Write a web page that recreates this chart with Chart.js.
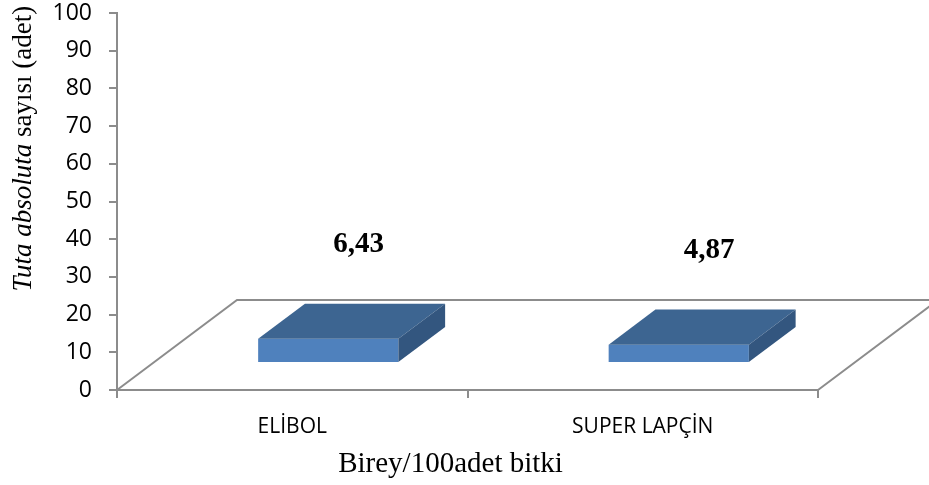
<!DOCTYPE html>
<html>
<head>
<meta charset="utf-8">
<script src="https://cdn.jsdelivr.net/npm/chart.js@4/dist/chart.umd.min.js"></script>
<style>
  html, body { margin: 0; padding: 0; background: #fff; }
  #wrap { width: 929px; height: 485px; }
</style>
</head>
<body>
<div id="wrap"><canvas id="c" width="929" height="485"></canvas></div>
<script>
// Chart data
const categories = ['ELİBOL', 'SUPER LAPÇİN'];
const values = [6.43, 4.87];
const valueLabels = ['6,43', '4,87'];
const yMin = 0;
const yMax = 100;
const yStep = 10;
const xTitle = 'Birey/100adet bitki';
const yTitleItalic = 'Tuta absoluta';
const yTitleRest = ' sayısı (adet)';

// 3D look: floor depth vector and bar placement within the floor depth
const FLOOR_DX = 120, FLOOR_DY = -90;
const BAR_FRONT = 0.3, BAR_DEPTH = 0.39;
const AXIS_GRAY = '#8c8c8c';
const FRONT = '#4f81bd', TOP = '#3d6591', SIDE = '#33567f';

const floor3d = {
  id: 'floor3d',
  beforeDatasetsDraw(chart) {
    const { ctx, scales: { x, y } } = chart;
    const y0 = y.getPixelForValue(0);
    ctx.save();
    ctx.strokeStyle = AXIS_GRAY;
    ctx.lineWidth = 2;
    ctx.beginPath();
    ctx.moveTo(x.left, y0);
    ctx.lineTo(x.left + FLOOR_DX, y0 + FLOOR_DY);
    ctx.lineTo(x.right + FLOOR_DX, y0 + FLOOR_DY);
    ctx.lineTo(x.right, y0);
    ctx.stroke();
    ctx.restore();
  }
};

const bars3d = {
  id: 'bars3d',
  beforeDatasetDraw(chart) {
    chart.ctx.save();
    chart.ctx.translate(FLOOR_DX * BAR_FRONT, FLOOR_DY * BAR_FRONT);
  },
  afterDatasetDraw(chart, args) {
    const ctx = chart.ctx;
    const dx = FLOOR_DX * BAR_DEPTH, dy = FLOOR_DY * BAR_DEPTH;
    args.meta.data.forEach(el => {
      const l = el.x - el.width / 2, r = el.x + el.width / 2;
      const t = el.y, b = el.base;
      // top face
      ctx.fillStyle = TOP;
      ctx.beginPath();
      ctx.moveTo(l, t); ctx.lineTo(r, t);
      ctx.lineTo(r + dx, t + dy); ctx.lineTo(l + dx, t + dy);
      ctx.closePath(); ctx.fill();
      // right side face
      ctx.fillStyle = SIDE;
      ctx.beginPath();
      ctx.moveTo(r, t); ctx.lineTo(r + dx, t + dy);
      ctx.lineTo(r + dx, b + dy); ctx.lineTo(r, b);
      ctx.closePath(); ctx.fill();
    });
    ctx.restore();
  },
  afterDatasetsDraw(chart) {
    const ctx = chart.ctx;
    const meta = chart.getDatasetMeta(0);
    const ox = FLOOR_DX * BAR_FRONT, oy = FLOOR_DY * BAR_FRONT;
    const dx = FLOOR_DX * BAR_DEPTH, dy = FLOOR_DY * BAR_DEPTH;
    ctx.save();
    ctx.fillStyle = '#000';
    ctx.font = 'bold 29px "Liberation Serif", "Times New Roman", serif';
    ctx.textAlign = 'center';
    ctx.textBaseline = 'alphabetic';
    meta.data.forEach((el, i) => {
      ctx.fillText(valueLabels[i], el.x + ox + dx * 0.65, el.y + oy + dy - 52);
    });
    ctx.restore();
  }
};

const axisTitles = {
  id: 'axisTitles',
  afterDraw(chart) {
    const { ctx, scales: { x, y } } = chart;
    ctx.save();
    ctx.fillStyle = '#000';
    // x axis title
    ctx.font = '29px "Liberation Serif", "Times New Roman", serif';
    ctx.textAlign = 'center';
    ctx.textBaseline = 'alphabetic';
    ctx.fillText(xTitle, (x.left + x.right) / 2 - 17, 472);
    // y axis title, italic species name followed by regular text
    const fItal = 'italic 27px "Liberation Serif", "Times New Roman", serif';
    const fReg = '27px "Liberation Serif", "Times New Roman", serif';
    ctx.font = fItal; const w1 = ctx.measureText(yTitleItalic).width;
    ctx.font = fReg; const w2 = ctx.measureText(yTitleRest).width;
    const cy = y.top + (y.bottom - y.top) * 0.36;
    ctx.translate(31, cy);
    ctx.rotate(-Math.PI / 2);
    ctx.textAlign = 'left';
    const start = -(w1 + w2) / 2;
    ctx.font = fItal; ctx.fillText(yTitleItalic, start, 0);
    ctx.font = fReg; ctx.fillText(yTitleRest, start + w1, 0);
    ctx.restore();
  }
};

new Chart(document.getElementById('c'), {
  type: 'bar',
  data: {
    labels: categories,
    datasets: [{
      data: values,
      backgroundColor: FRONT,
      borderWidth: 0,
      barPercentage: 0.4,
      categoryPercentage: 1,
      clip: false
    }]
  },
  options: {
    responsive: false,
    animation: false,
    devicePixelRatio: 1,
    layout: { padding: { left: 0, top: 13, right: 111, bottom: 0 } },
    plugins: { legend: { display: false }, tooltip: { enabled: false } },
    scales: {
      x: {
        offset: true,
        afterFit(s) { s.height = 95; s.paddingLeft = 0; s.paddingRight = 0; },
        grid: { display: true, drawOnChartArea: false, offset: true, color: AXIS_GRAY, lineWidth: 2, tickLength: 8 },
        border: { display: true, color: AXIS_GRAY, width: 2 },
        ticks: { color: '#000', padding: 16, font: { family: '"Open Sans", sans-serif', size: 21 }, maxRotation: 0 }
      },
      y: {
        min: yMin, max: yMax,
        afterFit(s) { s.width = 117; s.paddingTop = 0; s.paddingBottom = 0; },
        grid: { display: true, drawOnChartArea: false, color: AXIS_GRAY, lineWidth: 2, tickLength: 8 },
        border: { display: true, color: AXIS_GRAY, width: 2 },
        ticks: { stepSize: yStep, color: '#000', padding: 17, font: { family: '"Open Sans", sans-serif', size: 23 } }
      }
    }
  },
  plugins: [floor3d, bars3d, axisTitles]
});
</script>
</body>
</html>
